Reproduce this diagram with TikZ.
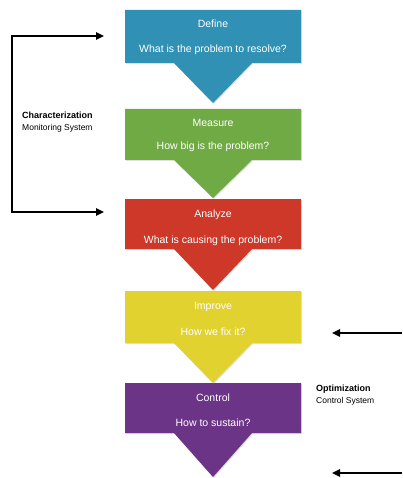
\documentclass[tikz,border=0pt]{standalone}
\usepackage{fontspec}
\setmainfont{Liberation Sans}
\usetikzlibrary{arrows.meta,shadows}
\definecolor{cdefine}{RGB}{48,145,180}
\definecolor{cmeasure}{RGB}{112,170,68}
\definecolor{canalyze}{RGB}{206,56,40}
\definecolor{cimprove}{RGB}{226,210,48}
\definecolor{ccontrol}{RGB}{108,52,134}
\tikzset{
  stepshape/.style={fill=#1, drop shadow={opacity=0.25,shadow xshift=0.8pt,shadow yshift=-1pt}},
  steptext/.style={text=white, font=\fontsize{10.5}{12}\selectfont, inner sep=0pt, anchor=base},
  sidehead/.style={font=\bfseries\fontsize{9}{10}\selectfont, inner sep=0pt, anchor=base west},
  sidesub/.style={font=\fontsize{8.5}{10}\selectfont, inner sep=0pt, anchor=base west},
  flowarrow/.style={line width=1.4pt, -{Triangle[length=8pt,width=7.5pt]}}
}
\newcommand\mystepshape[4]{% top, bottom, tip, color
  \fill[stepshape=#4] (125,#1) -- (301,#1) -- (301,#2) -- (252,#2) -- (213,#3) -- (174,#2) -- (125,#2) -- cycle;}
\begin{document}
\begin{tikzpicture}[x=1pt,y=-1pt]
\useasboundingbox[fill=white] (0,0) rectangle (402,478);
% shapes
\mystepshape{383}{433}{477}{ccontrol}
\mystepshape{291}{343}{383}{cimprove}
\mystepshape{199}{249}{290}{canalyze}
\mystepshape{109}{160}{198}{cmeasure}
\mystepshape{10}{63}{103}{cdefine}
% texts
\node[steptext] (deft) at (213,28) {Define};
\node[steptext] (defq) at (213,53) {What is the problem to resolve?};
\node[steptext] (meat) at (213,127) {Measure};
\node[steptext] (meaq) at (213,150) {How big is the problem?};
\node[steptext] (anat) at (213,217) {Analyze};
\node[steptext] (anaq) at (213,243) {What is causing the problem?};
\node[steptext] (impt) at (213,309) {Improve};
\node[steptext] (impq) at (213,335) {How we fix it?};
\node[steptext] (cont) at (213,401) {Control};
\node[steptext] (conq) at (213,426) {How to sustain?};
% side labels
\node[sidehead] (char) at (22,119) {Characterization};
\node[sidesub] (mon) at (22,131) {Monitoring System};
\node[sidehead] (opt) at (316,391) {Optimization};
\node[sidesub] (csys) at (316,403) {Control System};
% bracket arrows
\coordinate (lt) at (12,36);
\coordinate (lb) at (12,212);
\coordinate (lte) at (104,36);
\coordinate (lbe) at (104,212);
\draw[line width=1.4pt] (lt) -- (lb);
\draw[flowarrow] ([xshift=-0.7pt]lt) -- (lte);
\draw[flowarrow] ([xshift=-0.7pt]lb) -- (lbe);
\coordinate (r1) at (402,333);
\coordinate (r1e) at (332,333);
\coordinate (r2) at (402,473);
\coordinate (r2e) at (332,473);
\draw[flowarrow] (r1) -- (r1e);
\draw[flowarrow] (r2) -- (r2e);
\end{tikzpicture}
\end{document}
